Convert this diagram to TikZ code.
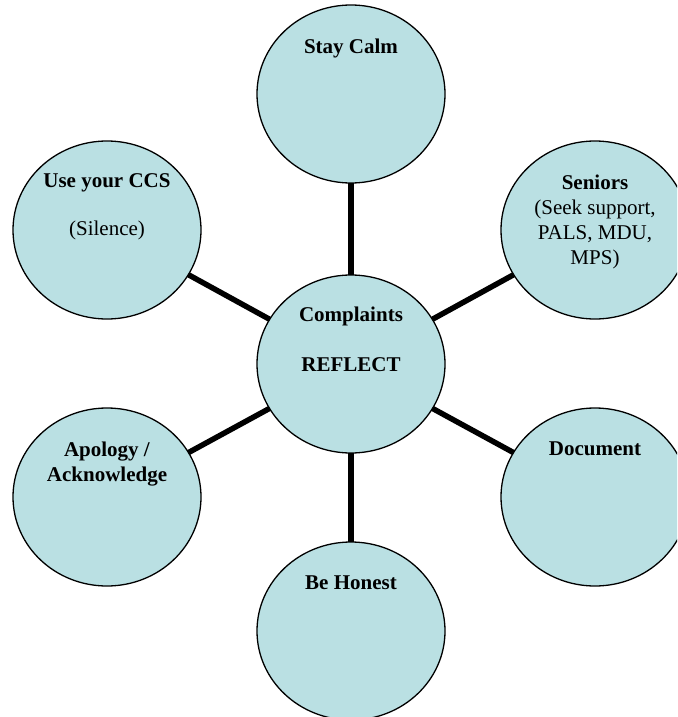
\documentclass[tikz,border=0pt]{standalone}
\usepackage{fontspec}
\setmainfont{Liberation Serif}
\usetikzlibrary{shapes.geometric,backgrounds}
\definecolor{bub}{RGB}{186,224,227}
\begin{document}
\begin{tikzpicture}[x=1pt,y=-1pt,
  bubble/.style={ellipse,draw=black,line width=1.3pt,fill=bub,minimum width=188pt,minimum height=178pt,inner sep=0pt},
  spoke/.style={line width=5.5pt,black},
  lbl/.style={anchor=base,inner sep=0pt,align=center,font=\fontsize{21}{25}\selectfont}]
\useasboundingbox (0,0) rectangle (677,717);
\clip (0,0) rectangle (677,717);
\node[bubble] (calm) at (351,94) {};
\node[bubble] (ccs) at (107,230) {};
\node[bubble] (sen) at (595,230) {};
\node[bubble] (cen) at (351,364) {};
\node[bubble] (apo) at (107,497) {};
\node[bubble] (doc) at (595,497) {};
\node[bubble] (hon) at (351,631) {};
\begin{scope}[on background layer]
\foreach \n in {calm,ccs,sen,apo,doc,hon}{\draw[spoke] (cen.center) -- (\n.center);}
\end{scope}
\node[lbl] (tcalm) at (351,54) {\textbf{Stay Calm}};
\node[lbl] (tccs1) at (107,187) {\textbf{Use your CCS}};
\node[lbl] (tccs2) at (107,235) {(Silence)};
\node[lbl] (tsen) at (595,264) {\textbf{Seniors}\\(Seek support,\\PALS, MDU,\\MPS)};
\node[lbl] (tcen1) at (351,321) {\textbf{Complaints}};
\node[lbl] (tcen2) at (351,371) {\textbf{REFLECT}};
\node[lbl] (tapo) at (107,481) {\textbf{Apology /}\\\textbf{Acknowledge}};
\node[lbl] (tdoc) at (595,455) {\textbf{Document}};
\node[lbl] (thon) at (351,589) {\textbf{Be Honest}};
\end{tikzpicture}
\end{document}
